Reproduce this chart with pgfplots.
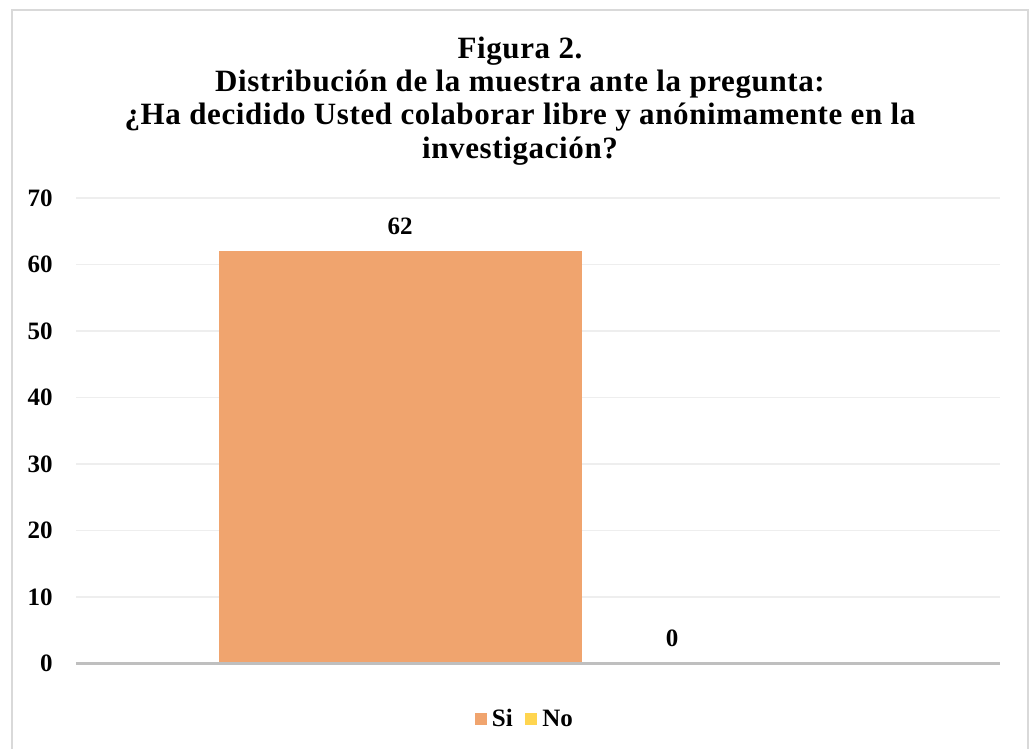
\documentclass[border=0pt]{standalone}
\usepackage{pgfplots}
\pgfplotsset{compat=1.18}
\usepackage{fontspec}
\setmainfont{Liberation Serif}
\definecolor{barO}{HTML}{F0A46E}
\definecolor{barY}{HTML}{FFD54F}
\definecolor{gridc}{HTML}{EEEEEE}
\definecolor{axisc}{HTML}{BFBFBF}
\definecolor{framec}{HTML}{D9D9D9}
\newcommand{\lab}{\fontsize{18.75}{22}\selectfont\bfseries}
\newcommand{\titf}{\fontsize{23.25}{25}\selectfont\bfseries\addfontfeature{LetterSpace=2}}
\begin{document}
\begin{tikzpicture}
\useasboundingbox (-57pt,-64.125pt) rectangle (717pt,497.625pt);
\draw[framec, line width=1.2pt] (-48pt,-66pt) rectangle (714pt,490.1pt);
\begin{axis}[
  at={(0pt,0pt)}, anchor=south west,
  scale only axis, width=693pt, height=349.125pt,
  xmin=0, xmax=924, ymin=0, ymax=70,
  ytick={0,10,...,70}, xtick=\empty,
  ymajorgrids, grid style={draw=gridc, line width=1.1pt},
  axis line style={draw=none}, major tick length=0pt,
  /pgf/number format/assume math mode=true,
  ticklabel style={font=\lab},
  yticklabel style={inner sep=0pt, xshift=-17.25pt},
  nodes near coords,
  every node near coord/.append style={font=\lab, anchor=south, inner sep=0pt, yshift=12pt, text=black},
  legend columns=2,
  legend style={at={(0.4848,-0.119)}, anchor=center, draw=none, fill=none,
    inner sep=0pt, column sep=0pt, font=\lab,
    nodes={inner sep=0pt, anchor=west},
    /tikz/every even column/.append style={column sep=9.5pt}},
  legend image code/.code={\fill[#1, draw=none] (0pt,-4.5pt) rectangle (9pt,4.5pt); \path (0pt,0pt) (12.75pt,0pt);},
  clip=false,
]
\addplot[ybar, bar width=363, bar shift=0pt, fill=barO, draw=none] coordinates {(324,62)};
\addlegendentry{Si}
\addplot[ybar, bar width=363, bar shift=0pt, fill=barY, draw=none] coordinates {(596,0)};
\addlegendentry{No}
\draw[axisc, line width=2.25pt] (axis cs:0,0) -- (axis cs:924,0);
\end{axis}
\node[font=\titf, anchor=base] at (333pt,454.1pt) {Figura 2.};
\node[font=\titf, anchor=base] at (333pt,429.1pt) {Distribución de la muestra ante la pregunta:};
\node[font=\titf, anchor=base] at (333pt,404.1pt) {¿Ha decidido Usted colaborar libre y anónimamente en la};
\node[font=\titf, anchor=base] at (333pt,379.1pt) {investigación?};
\end{tikzpicture}
\end{document}
